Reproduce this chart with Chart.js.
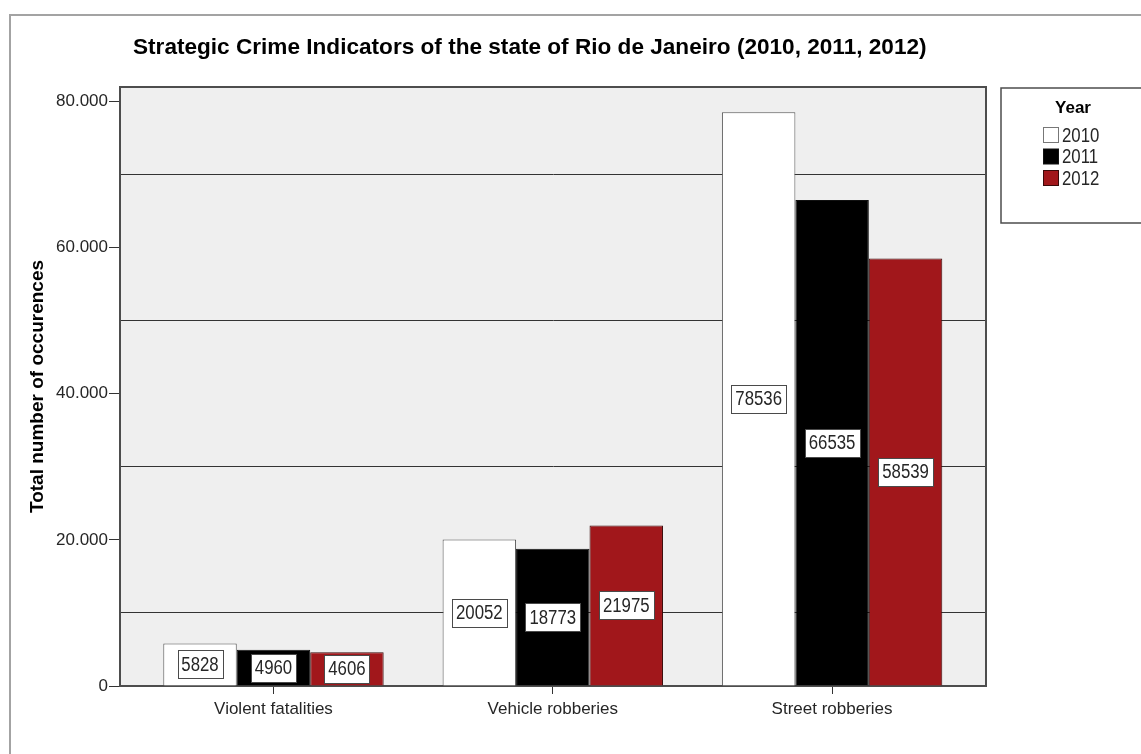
<!DOCTYPE html>
<html>
<head>
<meta charset="utf-8">
<title>Strategic Crime Indicators of the state of Rio de Janeiro</title>
<script src="https://cdn.jsdelivr.net/npm/chart.js@4.4.1/dist/chart.umd.min.js"></script>
<style>
  html, body { margin: 0; padding: 0; background: #ffffff; }
  #wrap { position: relative; width: 1141px; height: 754px; overflow: hidden; }
  #frame { position: absolute; left: 9px; top: 14px; width: 1200px; height: 800px;
           border-left: 2px solid #a3a3a3; border-top: 2px solid #a3a3a3; }
  #c { position: absolute; left: 0; top: 0; }
</style>
</head>
<body>
<div id="wrap">
  <div id="frame"></div>
  <canvas id="c" width="1141" height="754"></canvas>
</div>
<script>
// Crime categories and yearly totals
const categories = ['Violent fatalities', 'Vehicle robberies', 'Street robberies'];
const years = ['2010', '2011', '2012'];
const values2010 = [5828, 20052, 78536];
const values2011 = [4960, 18773, 66535];
const values2012 = [4606, 21975, 58539];

// Value axis: labelled ticks and the reference lines between them
const yLabelTicks = [0, 20000, 40000, 60000, 80000];
const yGridLines = [10000, 30000, 50000, 70000];

const chartTitle = 'Strategic Crime Indicators of the state of Rio de Janeiro (2010, 2011, 2012)';
const yAxisTitle = 'Total number of occurences';
const legendTitle = 'Year';

const fillColors = ['#ffffff', '#000000', '#a1171b'];
const edgeColors = ['#555555', '#111111', '#3a0a0a'];

const SANS = "'Liberation Sans', Arial, sans-serif";
const TEXT = '#262626';
const FRAME = '#4d4d4d';
const SQUEEZE = 0.84;   // horizontal compression for the tall, narrow label text

const series = [values2010, values2011, values2012];

function fmtThousands(v) {
  return String(v).replace(/\B(?=(\d{3})+(?!\d))/g, '.');
}

// Draws text compressed horizontally around its anchor point
function narrowText(ctx, text, x, y, align) {
  ctx.save();
  ctx.translate(x, y);
  ctx.scale(SQUEEZE, 1);
  ctx.textAlign = align;
  ctx.fillText(text, 0, 0);
  ctx.restore();
}

// Grey plot background
const plotBackground = {
  id: 'plotBackground',
  beforeDraw(chart) {
    const { ctx, chartArea: a } = chart;
    ctx.save();
    ctx.fillStyle = '#efefef';
    ctx.fillRect(a.left, a.top, a.right - a.left, a.bottom - a.top);
    ctx.restore();
  }
};

// Top and right edges of the plot frame
const plotFrame = {
  id: 'plotFrame',
  afterDraw(chart) {
    const { ctx, chartArea: a } = chart;
    ctx.save();
    ctx.strokeStyle = FRAME;
    ctx.lineWidth = 2;
    ctx.beginPath();
    ctx.moveTo(a.left, a.top);
    ctx.lineTo(a.right, a.top);
    ctx.lineTo(a.right, a.bottom);
    ctx.stroke();
    ctx.restore();
  }
};

// Boxed value labels in the middle of each bar
const barValueBoxes = {
  id: 'barValueBoxes',
  afterDatasetsDraw(chart) {
    const ctx = chart.ctx;
    ctx.save();
    ctx.font = '20px ' + SANS;
    ctx.textBaseline = 'middle';
    chart.data.datasets.forEach((ds, di) => {
      const meta = chart.getDatasetMeta(di);
      meta.data.forEach((bar, i) => {
        const text = String(ds.data[i].y);
        const cx = bar.x;
        const cy = (bar.y + bar.base) / 2;
        const w = Math.round(ctx.measureText(text).width * SQUEEZE + 8);
        const h = 28;
        const x0 = Math.round(cx - w / 2) + 0.5;
        const y0 = Math.round(cy - h / 2) + 0.5;
        ctx.fillStyle = '#ffffff';
        ctx.fillRect(x0, y0, w, h);
        ctx.strokeStyle = '#4a4a4a';
        ctx.lineWidth = 1;
        ctx.strokeRect(x0, y0, w, h);
        ctx.fillStyle = TEXT;
        narrowText(ctx, text, cx, cy + 1, 'center');
      });
    });
    ctx.restore();
  }
};

// Chart heading
const heading = {
  id: 'heading',
  afterDraw(chart) {
    const ctx = chart.ctx;
    ctx.save();
    ctx.font = 'bold 22.6px ' + SANS;
    ctx.fillStyle = '#000000';
    ctx.textAlign = 'left';
    ctx.textBaseline = 'alphabetic';
    ctx.fillText(chartTitle, 133, 54);
    ctx.restore();
  }
};

// Boxed legend to the right of the plot
const boxedLegend = {
  id: 'boxedLegend',
  afterDraw(chart) {
    const ctx = chart.ctx;
    const left = 1001, top = 88, bottom = 223;
    ctx.save();
    ctx.strokeStyle = FRAME;
    ctx.lineWidth = 1.5;
    ctx.beginPath();
    ctx.moveTo(1150, top);
    ctx.lineTo(left, top);
    ctx.lineTo(left, bottom);
    ctx.lineTo(1150, bottom);
    ctx.stroke();

    ctx.fillStyle = '#000000';
    ctx.font = 'bold 17px ' + SANS;
    ctx.textAlign = 'center';
    ctx.textBaseline = 'alphabetic';
    ctx.fillText(legendTitle, 1073, 113);

    ctx.font = '20px ' + SANS;
    ctx.textBaseline = 'middle';
    chart.data.datasets.forEach((ds, i) => {
      const cy = 135 + i * 21.5;
      ctx.fillStyle = ds.backgroundColor;
      ctx.fillRect(1043.5, cy - 7.5, 15, 15);
      ctx.strokeStyle = i === 0 ? '#777777' : ds.borderColor;
      ctx.lineWidth = 1;
      ctx.strokeRect(1043.5, cy - 7.5, 15, 15);
      ctx.fillStyle = TEXT;
      narrowText(ctx, ds.label, 1062, cy + 1, 'left');
    });
    ctx.restore();
  }
};

const datasets = years.map((label, i) => ({
  label,
  data: series[i].map((v, j) => ({ x: j, y: v })),
  backgroundColor: fillColors[i],
  borderColor: edgeColors[i],
  borderWidth: 1,
  categoryPercentage: 0.789,
  barPercentage: 1.0
}));

new Chart(document.getElementById('c'), {
  type: 'bar',
  data: { datasets },
  options: {
    responsive: false,
    animation: false,
    devicePixelRatio: 1,
    layout: { padding: { top: 87, right: 155, bottom: 0, left: 0 } },
    plugins: {
      legend: { display: false },
      title: { display: false },
      tooltip: { enabled: false }
    },
    scales: {
      x: {
        type: 'linear',
        offset: false,
        min: -0.5495,
        max: 2.551,
        afterBuildTicks(scale) {
          scale.ticks = categories.map((c, i) => ({ value: i }));
        },
        afterFit(scale) { scale.height = 68; },
        ticks: {
          autoSkip: false,
          maxRotation: 0,
          padding: 5,
          color: TEXT,
          font: { family: SANS, size: 17 },
          callback: (v) => categories[v]
        },
        grid: {
          offset: false,
          drawOnChartArea: false,
          drawTicks: true,
          tickLength: 8,
          tickColor: '#333333',
          lineWidth: 1
        },
        border: { display: true, color: FRAME, width: 2 }
      },
      y: {
        min: 0,
        max: 82000,
        afterBuildTicks(scale) {
          scale.ticks = yLabelTicks.concat(yGridLines)
            .sort((a, b) => a - b)
            .map(v => ({ value: v }));
        },
        afterFit(scale) { scale.width = 120; },
        ticks: {
          padding: 1,
          color: TEXT,
          font: { family: SANS, size: 17 },
          callback: (v) => yLabelTicks.includes(v) ? fmtThousands(v) : ''
        },
        grid: {
          drawOnChartArea: true,
          drawTicks: true,
          tickLength: 11,
          lineWidth: 1,
          color: (c) => (c.tick && yGridLines.includes(c.tick.value)) ? '#333333' : 'rgba(0,0,0,0)',
          tickColor: (c) => (c.tick && yLabelTicks.includes(c.tick.value)) ? '#333333' : 'rgba(0,0,0,0)'
        },
        border: { display: true, color: FRAME, width: 2 },
        title: {
          display: true,
          text: yAxisTitle,
          color: '#000000',
          font: { family: SANS, size: 19, weight: 'bold' },
          padding: { top: 26, bottom: 0 }
        }
      }
    }
  },
  plugins: [plotBackground, barValueBoxes, plotFrame, heading, boxedLegend]
});
</script>
</body>
</html>
